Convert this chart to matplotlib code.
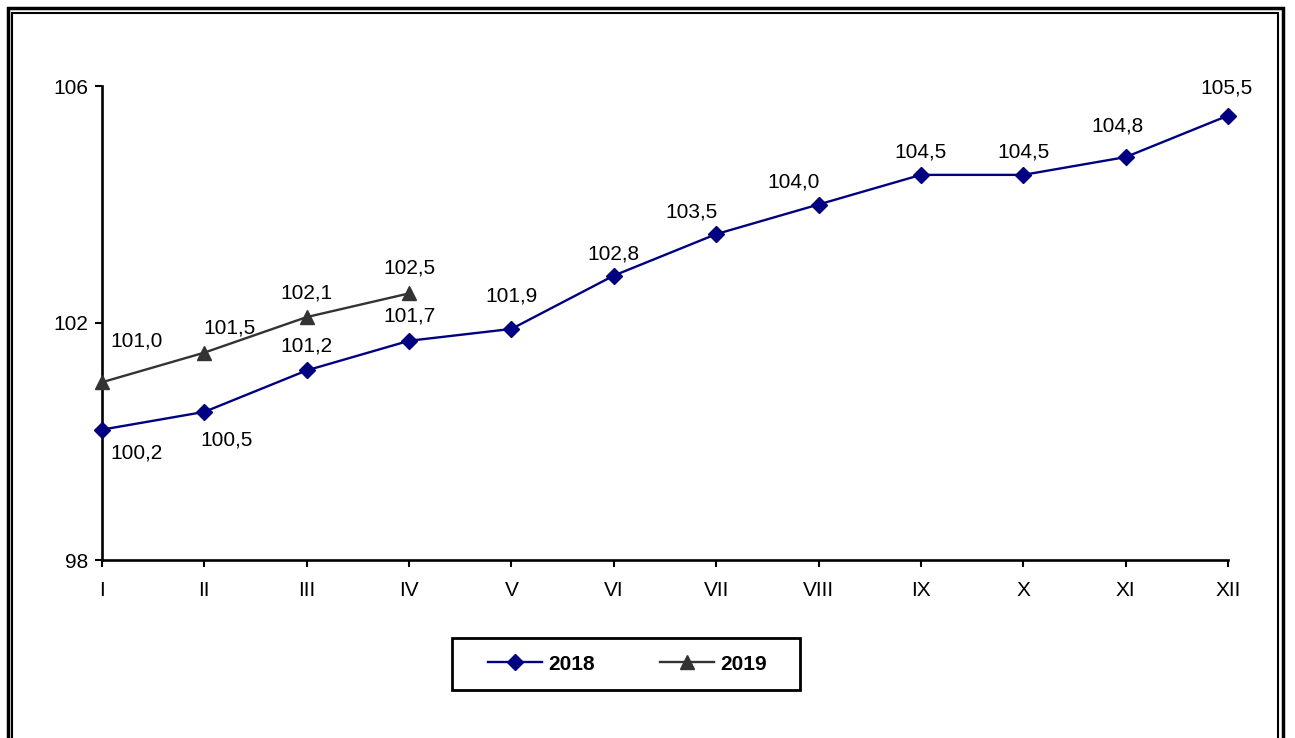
import matplotlib.pyplot as plt
from matplotlib.patches import Rectangle

plt.rcParams['font.family'] = ['Liberation Sans', 'DejaVu Sans']

months = ['I', 'II', 'III', 'IV', 'V', 'VI', 'VII', 'VIII', 'IX', 'X', 'XI', 'XII']
values_2018 = [100.2, 100.5, 101.2, 101.7, 101.9, 102.8, 103.5, 104.0, 104.5, 104.5, 104.8, 105.5]
values_2019 = [101.0, 101.5, 102.1, 102.5]
labels_2018 = ['100,2', '100,5', '101,2', '101,7', '101,9', '102,8', '103,5', '104,0', '104,5', '104,5', '104,8', '105,5']
labels_2019 = ['101,0', '101,5', '102,1', '102,5']

# label offsets in pixels (dx, dy), dy positive = up
offs_2018 = [(35, -23), (22, -28), (0, 24), (0, 25), (0, 33), (0, 22),
             (-25, 22), (-25, 23), (0, 23), (0, 23), (-8, 31), (-2, 28)]
offs_2019 = [(35, 41), (25, 25), (0, 24), (0, 25)]

fig = plt.figure(figsize=(12.95, 7.38), dpi=100)
ax = fig.add_axes([102 / 1295, 1 - 560 / 738, (1228 - 102) / 1295, (560 - 86) / 738])

x18 = list(range(len(values_2018)))
x19 = list(range(len(values_2019)))
ax.plot(x18, values_2018, color='#000080', lw=1.7, marker='D', ms=8, label='2018', clip_on=False, zorder=3)
ax.plot(x19, values_2019, color='#333333', lw=1.7, marker='^', ms=9.5, label='2019', clip_on=False, zorder=3)

for x, y, t, (dx, dy) in zip(x18, values_2018, labels_2018, offs_2018):
    ax.annotate(t, (x, y), xytext=(dx, dy), textcoords='offset pixels',
                ha='center', va='center', fontsize=15)
for x, y, t, (dx, dy) in zip(x19, values_2019, labels_2019, offs_2019):
    ax.annotate(t, (x, y), xytext=(dx, dy), textcoords='offset pixels',
                ha='center', va='center', fontsize=15)

ax.set_xlim(0, 11)
ax.set_ylim(98, 106)
ax.set_yticks([98, 102, 106])
ax.set_xticks(x18)
ax.set_xticklabels(months)
ax.tick_params(labelsize=15, length=5, width=1.5, pad=10)
ax.tick_params(axis='y', pad=5)
for s in ['top', 'right']:
    ax.spines[s].set_visible(False)
for s in ['left', 'bottom']:
    ax.spines[s].set_linewidth(1.9)
ax.patch.set_alpha(0)

# legend box drawn separately so its padding matches
fig.patches.append(Rectangle((452 / 1295, 1 - 690 / 738), 348 / 1295, 52 / 738,
                             transform=fig.transFigure, fill=False, lw=2, ec='black'))
fig.legend(loc='center', bbox_to_anchor=(627.5 / 1295, 1 - 664 / 738), ncol=2,
           prop={'weight': 'bold', 'size': 15}, frameon=False,
           handlelength=2.6, columnspacing=3.1, handletextpad=0.3, borderaxespad=0)

# double frame around the figure
fig.patches.append(Rectangle((7.5 / 1295, -0.05), (1283 - 7.5) / 1295, 1.05 - 7.5 / 738,
                             transform=fig.transFigure, fill=False, lw=2.5, ec='black'))
fig.patches.append(Rectangle((12 / 1295, -0.05), (1278 - 12) / 1295, 1.05 - 13 / 738,
                             transform=fig.transFigure, fill=False, lw=1.5, ec='black'))

fig.savefig('out.png', dpi=100)
